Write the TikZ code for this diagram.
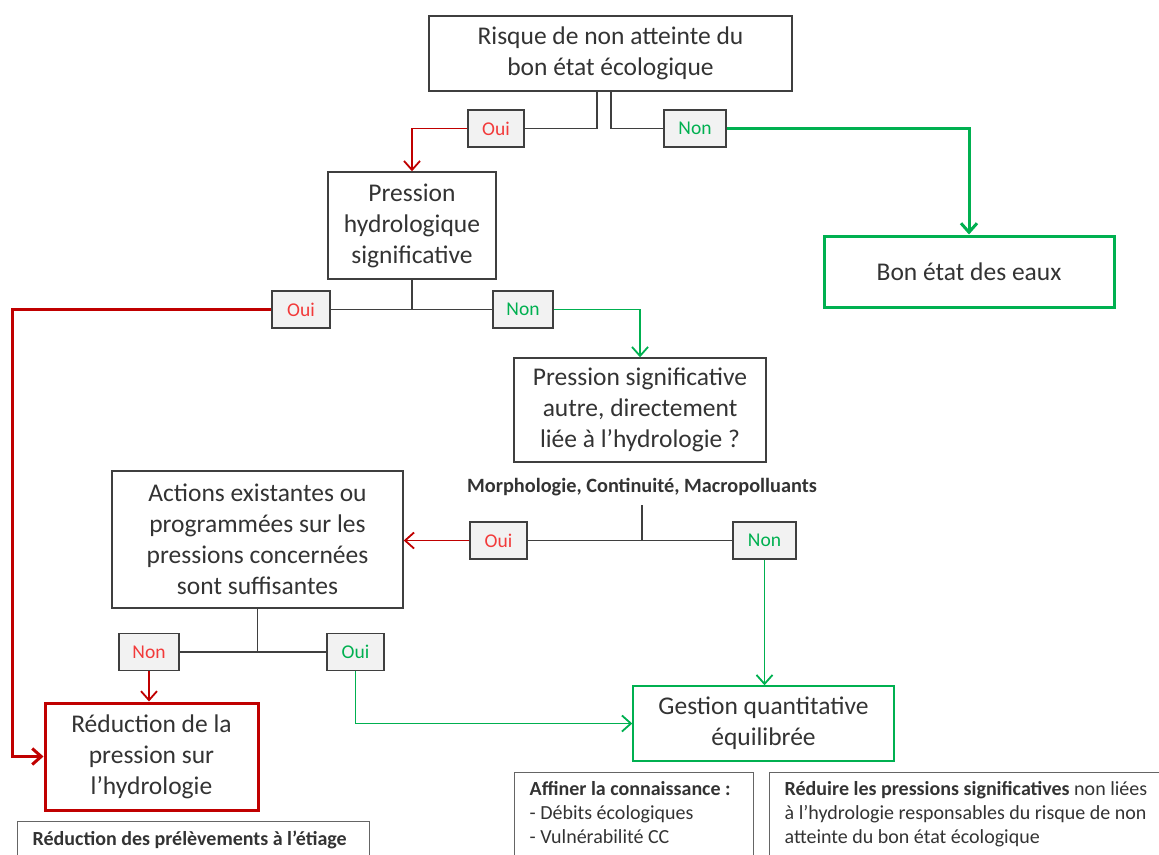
\documentclass[tikz,border=0pt]{standalone}
\usepackage{fontspec}
\setmainfont{Carlito}
\usetikzlibrary{arrows.meta}
\definecolor{boxgray}{HTML}{3F3F3F}
\definecolor{txtgray}{HTML}{333333}
\definecolor{darkred}{HTML}{C00000}
\definecolor{lightred}{HTML}{F23A3A}
\definecolor{okgreen}{HTML}{00B050}
\definecolor{labelfill}{HTML}{F2F2F2}

\begin{document}
\begin{tikzpicture}[x=1pt, y=-1pt, >={Straight Barb[length=9pt,width=16pt]},
        every node/.append style={text=txtgray, font=\fontsize{25.5}{31}\selectfont}]
      \tikzstyle{question} = [draw=boxgray, line width=1.4pt, align=center, inner sep=0pt]
      \tikzstyle{answer} = [draw=boxgray, line width=1.4pt, fill=labelfill, inner sep=0pt,
        minimum height=37pt, font=\fontsize{19.5}{23}\selectfont]
      \tikzstyle{note} = [draw=boxgray!80, line width=1.4pt, anchor=north west, inner xsep=15pt,
        inner ysep=9pt, font=\fontsize{20}{24}\selectfont]
      \tikzstyle{link} = [draw=boxgray, line width=1.6pt]
      \tikzstyle{yes} = [->, draw=darkred, line width=1.8pt]
      \tikzstyle{no} = [->, draw=okgreen, line width=1.8pt]
      \useasboundingbox (0,0) rectangle (1159,854);
      \clip (0,0) rectangle (1159,854);
      \node (risque) [question, minimum width=363pt, minimum height=75pt] at (610.5,53.5)
        {Risque de non atteinte du\\bon état écologique};
      \node (oui1) [answer, minimum width=56pt, text=lightred] at (496,128.5) {Oui};
      \node (non1) [answer, minimum width=62pt, text=okgreen] at (695,128.5) {Non};
      \node (bon) [question, draw=okgreen, line width=3pt, minimum width=290pt, minimum height=71pt]
        at (969,271.5) {Bon état des eaux};
      \node (hydro) [question, minimum width=168pt, minimum height=107pt] at (412,225.5)
        {Pression\\hydrologique\\significative};
      \node (oui2) [answer, minimum width=58pt, text=lightred] at (301,309.5) {Oui};
      \node (non2) [answer, minimum width=60pt, text=okgreen] at (523,309.5) {Non};
      \node (autre) [question, minimum width=252pt, minimum height=104pt] at (640,410)
        {Pression significative\\autre, directement\\liée à l’hydrologie ?};
      \node (morpho) [font=\fontsize{20.3}{24}\selectfont\bfseries] at (642,487)
        {Morphologie, Continuité, Macropolluants};
      \coordinate (split3) at (642,505);
      \node (oui3) [answer, minimum width=57pt, text=lightred] at (498.5,540.5) {Oui};
      \node (non3) [answer, minimum width=63pt, text=okgreen] at (764.5,540.5) {Non};
      \node (actions) [question, minimum width=291pt, minimum height=137pt] at (257.5,539.5)
        {Actions existantes ou\\programmées sur les\\pressions concernées\\sont suffisantes};
      \node (non4) [answer, minimum width=60pt, text=lightred] at (149,652) {Non};
      \node (oui4) [answer, minimum width=57pt, text=okgreen] at (355.5,652) {Oui};
      \node (reduc) [question, draw=darkred, line width=3pt, minimum width=213pt, minimum height=107pt]
        at (151.5,756.5) {Réduction de la\\pression sur\\l’hydrologie};
      \node (gestion) [question, draw=okgreen, minimum width=261pt, minimum height=75pt]
        at (763.5,723.5) {Gestion quantitative\\équilibrée};
      \node (prelev) [note] at (17,821)
        {\parbox[t][90pt][t]{322pt}{\raggedright\bfseries Réduction des prélèvements à l’étiage}};
      \node (affiner) [note] at (514,772)
        {\parbox[t][120pt][t]{209pt}{\raggedright\textbf{Affiner la connaissance :}\\
        - Débits écologiques\\- Vulnérabilité CC}};
      \node (reduire) [note] at (769,772)
        {\parbox[t][120pt][t]{420pt}{\raggedright\textbf{Réduire les pressions significatives} non liées\\
        à l’hydrologie responsables du risque de non\\atteinte du bon état écologique}};
      \draw[link] ([xshift=-13.5pt]risque.south) |- (oui1.east);
      \draw[link] ([xshift=0.5pt]risque.south) |- (non1.west);
      \draw[yes] (oui1.west) -| (hydro.north);
      \draw[no, line width=3pt] (non1.east) -| (bon.north);
      \draw[link] (hydro.south) -- (hydro.south |- oui2.east);
      \draw[link] (oui2.east) -- (non2.west);
      \coordinate (rail) at (12,309.5);
      \draw[yes, line width=3pt] (oui2.west) -- (rail) |- (reduc.west);
      \draw[no] (non2.east) -| (autre.north);
      \draw[link] (split3) -- (split3 |- oui3.east);
      \draw[link] (oui3.east) -- (non3.west);
      \draw[yes] (oui3.west) -- (oui3.west -| actions.east);
      \draw[no] (non3.south) -- (non3.south |- gestion.north);
      \draw[link] (actions.south) -- (actions.south |- non4.east);
      \draw[link] (non4.east) -- (oui4.west);
      \draw[yes] (non4.south) -- (non4.south |- reduc.north);
      \draw[no] (oui4.south) |- (gestion.west);
    \end{tikzpicture}
\end{document}
